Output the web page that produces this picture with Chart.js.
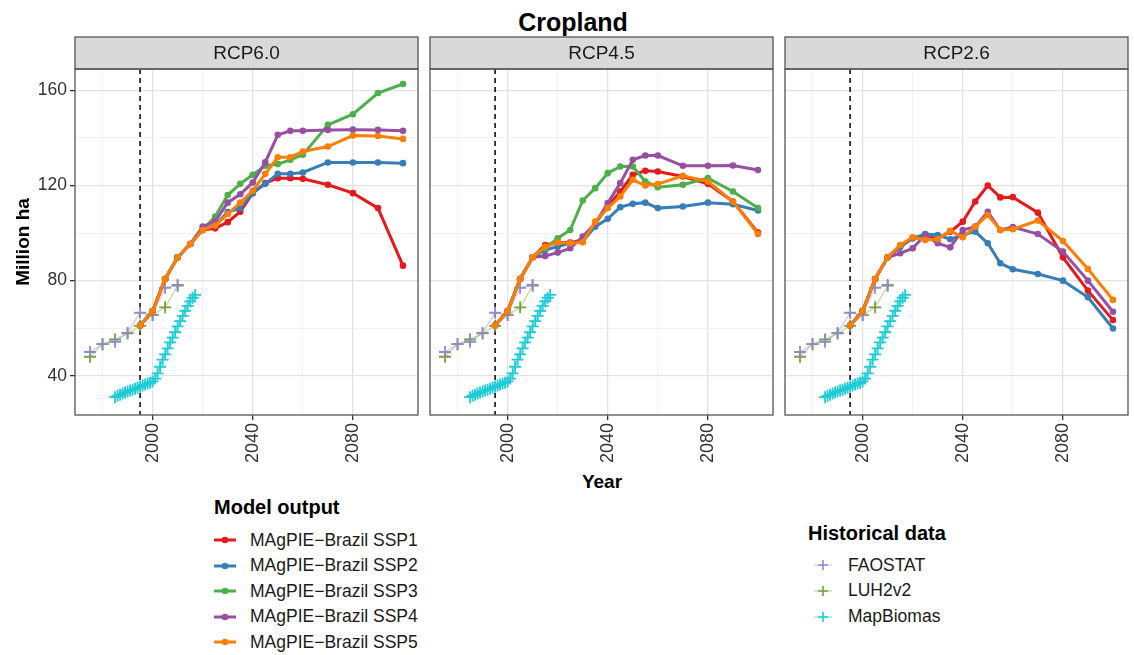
<!DOCTYPE html>
<html>
<head>
<meta charset="utf-8">
<script src="https://cdn.jsdelivr.net/npm/chart.js@4.4.1/dist/chart.umd.min.js"></script>
<style>
  body { margin: 0; background: #fff; font-family: "Liberation Sans", Arial, sans-serif; }
  #wrap { position: relative; width: 1134px; height: 655px; overflow: hidden; }
  canvas { position: absolute; }
  .txt { position: absolute; white-space: nowrap; color: #000; }
  .bold { font-weight: bold; }
  .item { position: absolute; display: flex; align-items: center; white-space: nowrap; color: #1a1a1a; }
</style>
</head>
<body>
<div id="wrap">
  <div class="txt bold" style="left:0;width:1146px;top:7px;height:30px;line-height:30px;text-align:center;font-size:25px">Cropland</div>
  <canvas id="p0" width="420" height="434" style="left:0;top:36px"></canvas>
  <canvas id="p1" width="347" height="434" style="left:428px;top:36px"></canvas>
  <canvas id="p2" width="347" height="434" style="left:783px;top:36px"></canvas>
  <div class="txt bold" style="left:502px;width:200px;top:470px;height:24px;line-height:24px;text-align:center;font-size:19px">Year</div>
  <div id="legends"></div>
</div>
<script>
// model years (5-yearly to 2060, then 10-yearly)
const years = [1995, 2000, 2005, 2010, 2015, 2020, 2025, 2030, 2035, 2040, 2045, 2050, 2055, 2060, 2070, 2080, 2090, 2100];

const scenarios = ['RCP6.0', 'RCP4.5', 'RCP2.6'];
const sspNames = ['MAgPIE−Brazil SSP1', 'MAgPIE−Brazil SSP2', 'MAgPIE−Brazil SSP3', 'MAgPIE−Brazil SSP4', 'MAgPIE−Brazil SSP5'];
const sspColours = ['#e41a1c', '#377eb8', '#4daf4a', '#984ea3', '#ff7f00'];

// RCP6.0
const rcp60Ssp1 = [61.1, 67.2, 80.7, 89.8, 95.4, 101.3, 102.0, 104.6, 109.0, 116.8, 121.0, 123.1, 123.1, 122.8, 120.3, 116.8, 110.5, 86.3];
const rcp60Ssp2 = [61.1, 67.2, 80.7, 89.8, 95.4, 101.3, 103.4, 108.8, 110.5, 116.8, 120.7, 124.9, 124.9, 125.5, 129.7, 129.7, 129.7, 129.4];
const rcp60Ssp3 = [61.1, 67.2, 80.7, 89.8, 95.4, 101.3, 107.0, 116.0, 120.7, 124.5, 128.3, 129.0, 130.8, 132.9, 145.5, 150.0, 158.9, 162.7];
const rcp60Ssp4 = [61.1, 67.2, 80.7, 89.8, 95.4, 102.7, 105.0, 112.8, 116.3, 121.3, 129.8, 141.3, 143.0, 143.0, 143.4, 143.5, 143.4, 143.0];
const rcp60Ssp5 = [61.1, 67.2, 80.7, 89.8, 95.4, 101.3, 103.2, 108.0, 112.8, 117.8, 124.9, 131.9, 131.9, 134.3, 136.4, 141.0, 140.8, 139.6];

// RCP4.5
const rcp45Ssp1 = [61.1, 67.2, 80.7, 89.8, 95.0, 96.0, 96.0, 97.1, 104.0, 111.2, 117.5, 124.5, 126.2, 125.9, 123.8, 120.7, 113.3, 100.2];
const rcp45Ssp2 = [61.1, 67.2, 80.7, 89.8, 92.9, 94.3, 95.7, 96.4, 102.7, 106.0, 110.9, 112.3, 112.8, 110.5, 111.2, 112.8, 112.1, 109.5];
const rcp45Ssp3 = [61.1, 67.2, 80.7, 89.8, 93.6, 97.8, 101.3, 113.7, 118.9, 125.2, 128.0, 128.0, 121.7, 119.3, 120.3, 123.1, 117.5, 110.5];
const rcp45Ssp4 = [61.1, 67.2, 80.7, 89.8, 90.4, 91.8, 93.6, 98.5, 104.0, 112.6, 121.0, 130.8, 132.6, 132.6, 128.3, 128.3, 128.4, 126.5];
const rcp45Ssp5 = [61.1, 67.2, 80.7, 89.8, 94.3, 96.0, 95.7, 96.1, 104.8, 110.5, 115.4, 122.4, 120.0, 120.6, 124.1, 121.7, 113.3, 99.6];

// RCP2.6 (no SSP3 run)
const rcp26Ssp1 = [61.1, 67.2, 80.7, 89.8, 94.3, 97.8, 98.5, 97.8, 100.6, 104.8, 113.3, 120.0, 115.0, 115.1, 108.6, 89.8, 75.8, 63.4];
const rcp26Ssp2 = [61.1, 67.2, 80.7, 89.8, 94.3, 97.8, 99.6, 99.2, 97.4, 99.2, 100.6, 95.7, 87.3, 84.8, 82.8, 80.0, 73.0, 59.9];
const rcp26Ssp3 = null;
const rcp26Ssp4 = [61.1, 67.2, 80.7, 89.8, 91.5, 93.6, 99.2, 95.7, 94.0, 101.3, 102.7, 109.0, 101.3, 102.5, 99.6, 92.2, 80.0, 66.9];
const rcp26Ssp5 = [61.1, 67.2, 80.7, 89.8, 95.0, 98.2, 97.1, 97.4, 101.0, 98.2, 102.7, 107.6, 101.3, 101.6, 105.3, 96.7, 84.9, 71.9];

// historical data
const histNames = ['FAOSTAT', 'LUH2v2', 'MapBiomas'];
const histColours = ['#8f8cc4', '#74a03c', '#1fcbd6'];
const histLineColours = ['rgba(150,145,205,0.45)', 'rgba(120,170,60,0.45)', 'rgba(30,210,220,0.55)'];
const faoYears = [1975, 1980, 1985, 1990, 1995, 2000, 2005, 2010];
const faoValues = [50.0, 53.3, 54.3, 58.0, 66.5, 65.5, 77.0, 78.2];
const luhYears = [1975, 1980, 1985, 1990, 1995, 2000, 2005, 2010];
const luhValues = [48.0, 53.3, 55.3, 57.8, 61.0, 65.5, 68.8, 77.9];
const mapbiomasYears = [1985, 1986, 1987, 1988, 1989, 1990, 1991, 1992, 1993, 1994, 1995, 1996, 1997, 1998, 1999, 2000,
  2001, 2002, 2003, 2004, 2005, 2006, 2007, 2008, 2009, 2010, 2011, 2012, 2013, 2014, 2015, 2016, 2017];
const mapbiomasValues = [31.0, 31.6, 32.0, 32.5, 33.0, 33.4, 33.8, 34.1, 34.5, 35.0, 35.4, 35.9, 36.3, 36.7, 37.1, 37.6,
  38.8, 41.0, 43.8, 46.8, 49.0, 51.5, 54.0, 56.0, 58.3, 60.8, 63.0, 65.2, 67.3, 69.4, 71.3, 72.8, 74.0];

// axes
const xMin = 1969, xMax = 2106;
const yMin = 23.5, yMax = 169;
const dashYear = 1995;

const panelSeries = [
  [rcp60Ssp1, rcp60Ssp2, rcp60Ssp3, rcp60Ssp4, rcp60Ssp5],
  [rcp45Ssp1, rcp45Ssp2, rcp45Ssp3, rcp45Ssp4, rcp45Ssp5],
  [rcp26Ssp1, rcp26Ssp2, rcp26Ssp3, rcp26Ssp4, rcp26Ssp5]
];
const histSeries = [[faoYears, faoValues], [luhYears, luhValues], [mapbiomasYears, mapbiomasValues]];

Chart.defaults.font.family = '"Liberation Sans", Arial, sans-serif';

const stripH = 32;
const panelDecor = {
  id: 'panelDecor',
  beforeDatasetsDraw(chart) {
    const {ctx, chartArea: a, scales: {x}} = chart;
    const px = x.getPixelForValue(dashYear);
    ctx.save();
    ctx.strokeStyle = '#111';
    ctx.lineWidth = 1.6;
    ctx.setLineDash([5, 4]);
    ctx.beginPath();
    ctx.moveTo(px, a.top);
    ctx.lineTo(px, a.bottom);
    ctx.stroke();
    ctx.restore();
  },
  afterDraw(chart, args, opts) {
    const {ctx, chartArea: a} = chart;
    ctx.save();
    ctx.fillStyle = '#d9d9d9';
    ctx.fillRect(a.left, a.top - stripH, a.width, stripH);
    ctx.strokeStyle = '#555';
    ctx.lineWidth = 1.3;
    ctx.strokeRect(a.left, a.top - stripH, a.width, stripH);
    ctx.strokeRect(a.left, a.top, a.width, a.height);
    ctx.fillStyle = '#1a1a1a';
    ctx.font = '19px "Liberation Sans", Arial, sans-serif';
    ctx.textAlign = 'center';
    ctx.textBaseline = 'middle';
    ctx.fillText(opts.label, (a.left + a.right) / 2, a.top - stripH / 2 + 1);
    ctx.restore();
  }
};

const isMajor = c => c.tick && c.tick.value % 40 === 0;
const gridOpts = (ticks) => ({
  color: c => isMajor(c) ? '#e2e2e2' : '#eeeeee',
  lineWidth: c => isMajor(c) ? 1.3 : 0.8,
  tickColor: c => isMajor(c) ? '#333' : 'rgba(0,0,0,0)',
  tickLength: 5,
  drawTicks: ticks
});
// drop the bound ticks at min/max, keep the round ones
const keepRound = s => { s.ticks = s.ticks.filter(t => t.value % 20 === 0); };

const makePanel = (id, label, series, showY) => {
  const datasets = [];
  series.forEach((vals, i) => {
    if (!vals) return;
    datasets.push({
      label: sspNames[i],
      data: years.map((yr, k) => ({x: yr, y: vals[k]})),
      borderColor: sspColours[i],
      backgroundColor: sspColours[i],
      borderWidth: 3,
      pointRadius: 3.3,
      pointBorderWidth: 0,
      order: 4 - i
    });
  });
  histSeries.forEach(([hx, hy], i) => {
    datasets.push({
      label: histNames[i],
      data: hx.map((yr, k) => ({x: yr, y: hy[k]})),
      borderColor: histLineColours[i],
      borderWidth: 1.3,
      pointStyle: 'cross',
      pointRadius: 6,
      pointBorderColor: histColours[i],
      pointBorderWidth: 1.8,
      order: 10 + i
    });
  });

  new Chart(document.getElementById(id), {
    type: 'line',
    data: {datasets},
    plugins: [panelDecor],
    options: {
      responsive: false,
      animation: false,
      devicePixelRatio: 1,
      layout: {autoPadding: false, padding: {top: stripH + 1, left: showY ? 0 : 2, right: 2, bottom: 0}},
      plugins: {legend: {display: false}, tooltip: {enabled: false}, panelDecor: {label}},
      scales: {
        x: {
          type: 'linear', min: xMin, max: xMax,
          grid: gridOpts(true),
          border: {display: false},
          ticks: {
            stepSize: 20, autoSkip: false,
            minRotation: 90, maxRotation: 90, padding: 3,
            color: '#333', font: {size: 18},
            callback: v => v % 40 === 0 ? String(v) : ''
          },
          afterBuildTicks: keepRound,
          afterFit: s => { s.height = 55; }
        },
        y: {
          type: 'linear', min: yMin, max: yMax,
          grid: gridOpts(showY),
          border: {display: false},
          ticks: {
            display: showY, stepSize: 20, padding: 3,
            color: '#333', font: {size: 17.5},
            callback: v => v % 40 === 0 ? String(v) : ''
          },
          title: {
            display: showY, text: 'Million ha', color: '#000',
            font: {size: 19, weight: 'bold'}, padding: {top: 12, bottom: 0}
          },
          afterBuildTicks: keepRound,
          afterFit: s => { s.width = showY ? 75 : 0; }
        }
      }
    }
  });
};

scenarios.forEach((name, i) => makePanel('p' + i, name, panelSeries[i], i === 0));

// legends
const legends = document.getElementById('legends');
const addText = (text, left, cy, size, bold) => {
  const d = document.createElement('div');
  d.className = 'txt' + (bold ? ' bold' : '');
  d.style.cssText = `left:${left}px;top:${cy - 12}px;height:24px;line-height:24px;font-size:${size}px`;
  d.textContent = text;
  legends.appendChild(d);
};
const addItem = (svg, text, left, cy) => {
  const d = document.createElement('div');
  d.className = 'item';
  d.style.cssText = `left:${left}px;top:${cy - 12}px;height:24px;font-size:17.5px`;
  d.innerHTML = svg + `<span style="margin-left:14px">${text}</span>`;
  legends.appendChild(d);
};

addText('Model output', 214, 507, 20, true);
sspNames.forEach((n, i) => {
  const svg = `<svg width="22" height="12"><line x1="0" y1="6" x2="22" y2="6" stroke="${sspColours[i]}" stroke-width="3"/><circle cx="11" cy="6" r="3.3" fill="${sspColours[i]}"/></svg>`;
  addItem(svg, n, 214, 540 + i * 25.6);
});

addText('Historical data', 808, 533, 20, true);
histNames.forEach((n, i) => {
  const svg = `<svg width="22" height="14"><line x1="2" y1="7" x2="20" y2="7" stroke="${histLineColours[i]}" stroke-width="1.3"/><path d="M11 2 V12 M6 7 H16" stroke="${histColours[i]}" stroke-width="1.6"/></svg>`;
  addItem(svg, n, 812, 565 + i * 25.8);
});
</script>
</body>
</html>
